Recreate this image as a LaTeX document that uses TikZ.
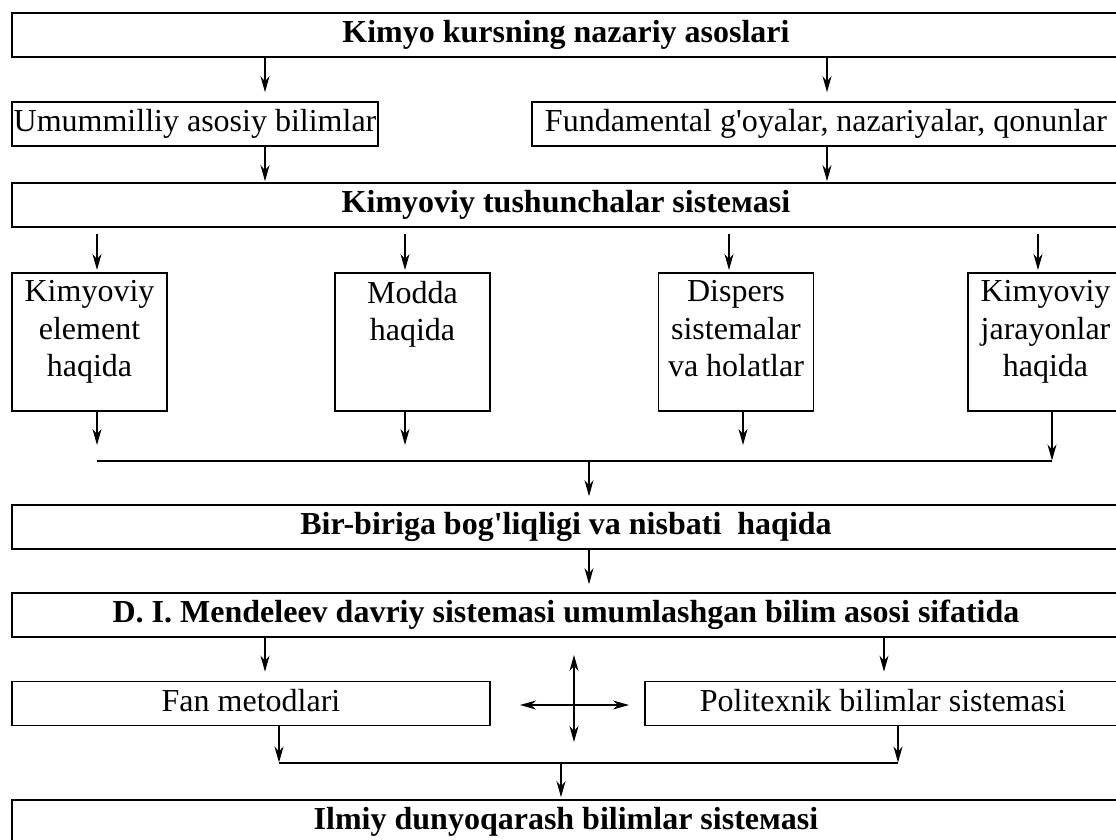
\documentclass[tikz,border=0pt]{standalone}
\usepackage{fontspec}
\setmainfont{Liberation Serif}
\usetikzlibrary{arrows.meta}

\tikzset{
  txt/.style={font=\fontsize{32}{37.5}\selectfont},
  box/.style={txt, draw, line width=1.6pt, inner sep=0pt, minimum height=44pt,
    text height=22pt, text depth=7pt},
  wide/.style={box, minimum width=1108pt, font=\fontsize{32}{37.5}\selectfont\bfseries},
  tall/.style={txt, draw, line width=1.6pt, inner xsep=4pt, inner ysep=8pt, anchor=north},
  tip/.tip={Stealth[length=16pt,width=9pt,inset=5pt]},
  arr/.style={line width=1.2pt, -tip},
  twoway/.style={line width=1.2pt, tip-tip},
  bus/.style={line width=1.8pt},
}

\newcommand{\tallbox}[1]{\parbox[t][122pt][t]{147pt}{\centering #1}}
\newcommand{\q}{\textquotesingle}

\begin{document}
\begin{tikzpicture}[x=1pt,y=-1pt]
\useasboundingbox (0,0) rectangle (1116,840);

%top part
\node[wide] (kurs) at (566,35) {Kimyo kursning nazariy asoslari};
\node[box, minimum width=366pt] (umum) at (195,124) {Umummilliy asosiy bilimlar};
\node[box, minimum width=588pt] (fund) at (826,124) {Fundamental g\q oyalar, nazariyalar, qonunlar};
\node[wide] (tush) at (566,205) {Kimyoviy tushunchalar sisteмasi};

%arrow columns
\coordinate (c1) at (265,0);
\coordinate (c2) at (827,0);

\draw[arr, shorten >=9pt] (kurs.south -| c1) -- (umum.north -| c1);
\draw[arr, shorten >=9pt] (kurs.south -| c2) -- (fund.north -| c2);
\draw[arr, shorten >=1pt] (umum.south -| c1) -- (tush.north -| c1);
\draw[arr, shorten >=1pt] (fund.south -| c2) -- (tush.north -| c2);

%four boxes
\node[tall] (elem) at (89.5,272) {\tallbox{Kimyoviy\\element\\haqida}};
\node[tall] (modd) at (412.5,272) {\tallbox{Modda\\haqida}};
\node[tall] (disp) at (736,272) {\tallbox{Dispers\\sistemalar\\va holatlar}};
\node[tall] (jara) at (1045.5,272) {\tallbox{Kimyoviy\\jarayonlar\\haqida}};

\foreach \n/\x in {elem/97,modd/405,disp/729,jara/1038}{
  \draw[arr, shorten <=6pt, shorten >=2pt] (tush.south -| \x,0) -- (\n.north -| \x,0);
}

%collecting line
\coordinate (jA) at (97,461);
\coordinate (jB) at (405,461);
\coordinate (jC) at (743,461);
\coordinate (jD) at (1052,461);
\coordinate (jM) at (589,461);
\draw[arr, shorten >=16pt] (elem.south -| jA) -- (jA);
\draw[arr, shorten >=16pt] (modd.south -| jB) -- (jB);
\draw[arr, shorten >=16pt] (disp.south -| jC) -- (jC);
\draw[arr, shorten >=0.5pt] (jara.south -| jD) -- (jD);
\draw[bus] (jA) -- (jD);

%middle part
\node[wide] (bogl) at (566,527) {Bir-biriga bog\q liqligi va nisbati\ \ haqida};
\node[wide] (mend) at (566,615) {D. I. Mendeleev davriy sistemasi umumlashgan bilim asosi sifatida};
\draw[arr, shorten >=8pt] (jM) -- (bogl.north -| jM);
\draw[arr, shorten >=8pt] (bogl.south -| jM) -- (mend.north -| jM);

%lower part
\node[box, minimum width=478pt] (fan) at (251,703.5) {Fan metodlari};
\node[box, minimum width=476pt] (poli) at (883,703.5) {Politexnik bilimlar sistemasi};
\coordinate (c3) at (884,0);
\draw[arr, shorten >=9pt] (mend.south -| c1) -- (fan.north -| c1);
\draw[arr, shorten >=9pt] (mend.south -| c3) -- (poli.north -| c3);

%cross
\coordinate (crT) at (574,655);
\coordinate (crB) at (574,742);
\coordinate (crL) at (520,705);
\coordinate (crR) at (629,705);
\draw[twoway] (crT) -- (crB);
\draw[twoway] (crL) -- (crR);

%bottom
\coordinate (jF) at (279,763);
\coordinate (jP) at (898,763);
\coordinate (jL) at (561,763);
\node[wide] (ilmi) at (566,822) {Ilmiy dunyoqarash bilimlar sisteмasi};
\draw[arr, shorten >=0.5pt] (fan.south -| jF) -- (jF);
\draw[arr, shorten >=0.5pt] (poli.south -| jP) -- (jP);
\draw[bus] (jF) -- (jP);
\draw[arr, shorten >=2pt] (jL) -- (ilmi.north -| jL);

\end{tikzpicture}
\end{document}
